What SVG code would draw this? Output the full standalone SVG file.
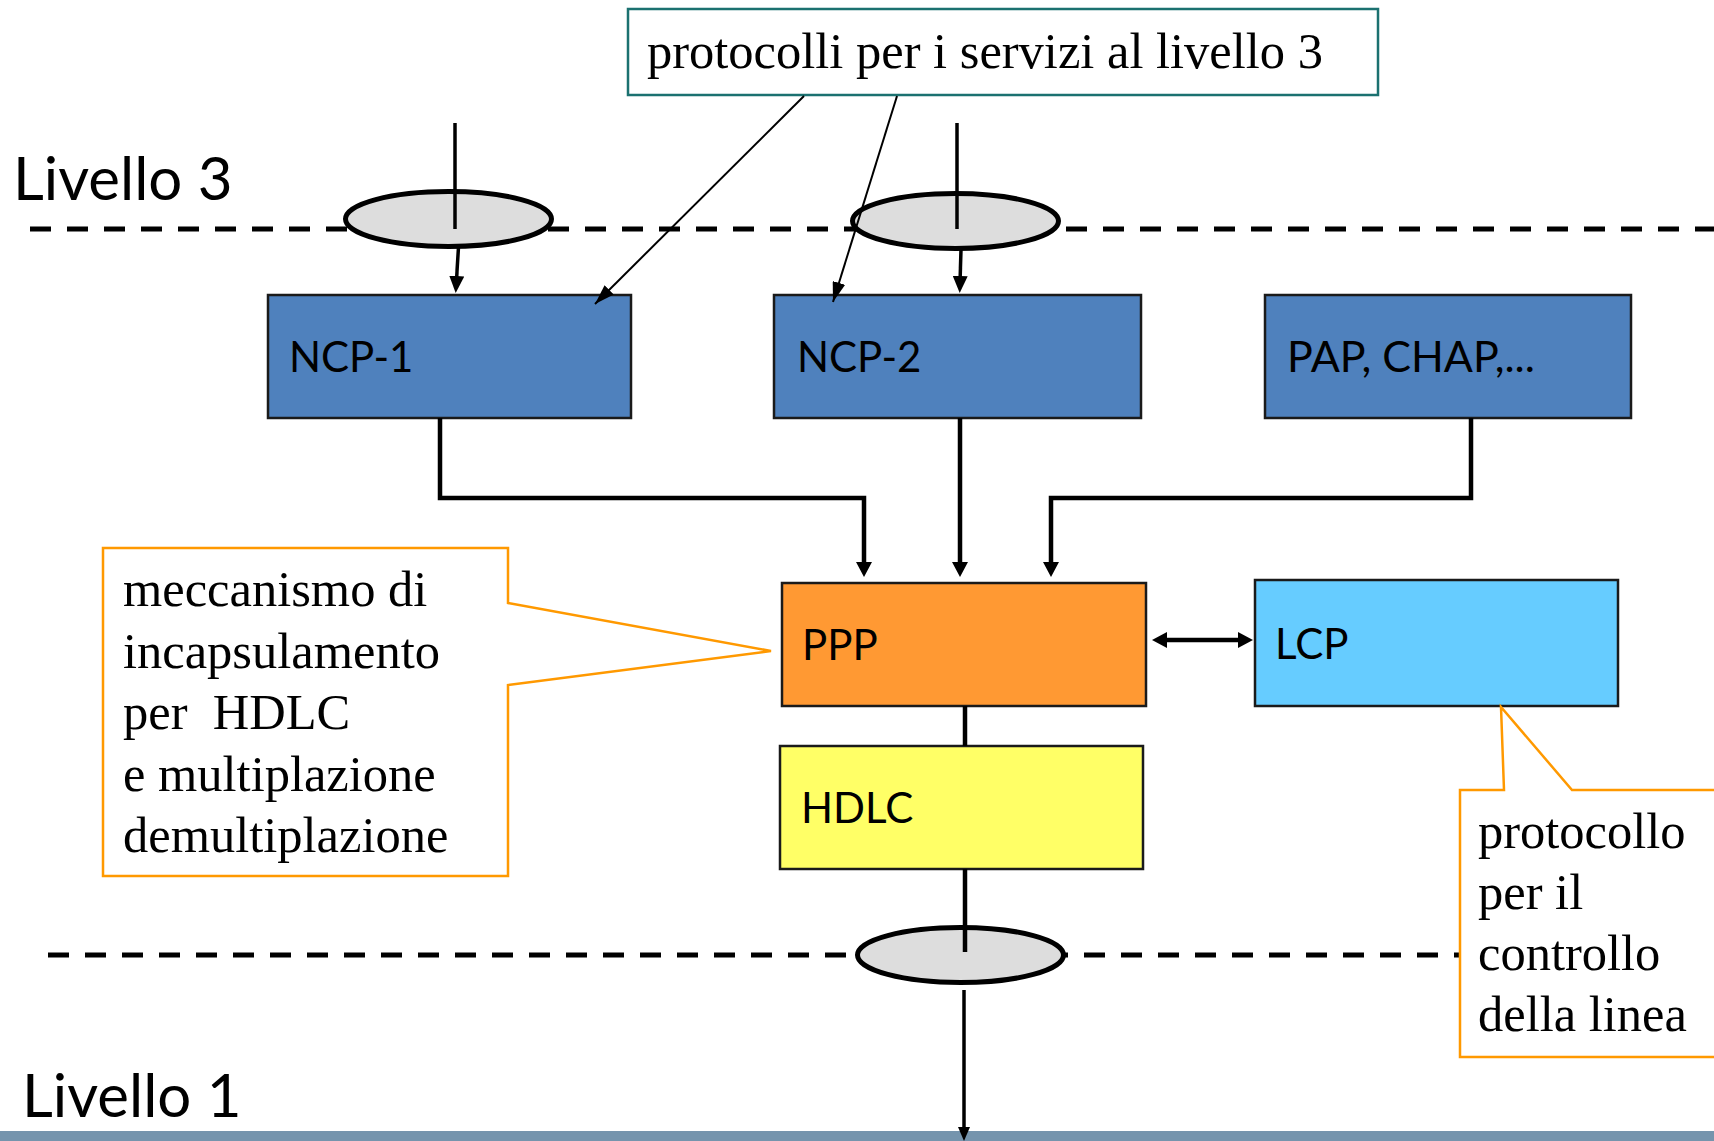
<svg xmlns="http://www.w3.org/2000/svg" width="1714" height="1141" viewBox="0 0 1714 1141">
<style>
.sans{font-family:Lato,"Liberation Sans",sans-serif;fill:#000}
.serif{font-family:"Liberation Serif","Times New Roman",serif;font-size:50.5px;fill:#000;white-space:pre}
.box{stroke:#1a1a1a;stroke-width:2.5}
.dash{stroke:#000;stroke-width:5;stroke-dasharray:21 16;fill:none}
.ell{fill:#dddddd;stroke:#000;stroke-width:5}
.thick{stroke:#000;stroke-width:4.5;fill:none}
.mid{stroke:#000;stroke-width:3.5;fill:none}
.thin{stroke:#000;stroke-width:2;fill:none}
.call{fill:#fff;stroke:#ff9900;stroke-width:2.5}
</style>
<defs>
<marker id="ah" markerUnits="userSpaceOnUse" viewBox="0 0 15 16" refX="5" refY="8" markerWidth="15" markerHeight="16" orient="auto-start-reverse"><path d="M0,0 L15,8 L0,16 z" fill="#000"/></marker>
<marker id="ah2" markerUnits="userSpaceOnUse" viewBox="0 0 17 15" refX="7" refY="7.5" markerWidth="17" markerHeight="15" orient="auto"><path d="M0,0 L17,7.5 L0,15 z" fill="#000"/></marker>
<marker id="ah3" markerUnits="userSpaceOnUse" viewBox="0 0 14 12" refX="4" refY="6" markerWidth="14" markerHeight="12" orient="auto"><path d="M0,0 L14,6 L0,12 z" fill="#000"/></marker>
<marker id="ahthin" markerUnits="userSpaceOnUse" viewBox="0 0 20 13" refX="20" refY="6.5" markerWidth="20" markerHeight="13" orient="auto"><path d="M0,0 L20,6.5 L0,13 z" fill="#000"/></marker>
</defs>

<rect id="bottom-bar" x="0" y="1131" width="1714" height="10" fill="#7594ad"/>

<g id="layer-lines">
<line class="dash" x1="30" y1="229" x2="1714" y2="229"/>
<line class="dash" x1="48" y1="955" x2="1714" y2="955"/>
</g>

<text id="livello3" class="sans" x="13" y="200" font-size="60">Livello 3</text>
<text id="livello1" class="sans" x="22" y="1117" font-size="60">Livello 1</text>

<g id="sap1"><ellipse class="ell" cx="448.5" cy="219" rx="103" ry="27.5"/></g>
<g id="sap2"><ellipse class="ell" cx="955.5" cy="221" rx="103" ry="27.5"/></g>
<g id="sap3"><ellipse class="ell" cx="960.5" cy="955" rx="103" ry="27.5"/></g>

<g id="ncp1"><rect class="box" x="268" y="295" width="363" height="123" fill="#4f81bd"/><text class="sans" x="289" y="372" font-size="42">NCP-1</text></g>
<g id="ncp2"><rect class="box" x="774" y="295" width="367" height="123" fill="#4f81bd"/><text class="sans" x="797" y="372" font-size="42">NCP-2</text></g>
<g id="pap"><rect class="box" x="1265" y="295" width="366" height="123" fill="#4f81bd"/><text class="sans" x="1287" y="372" font-size="43">PAP, CHAP,...</text></g>
<g id="ppp"><rect class="box" x="782" y="583" width="364" height="123" fill="#ff9933"/><text class="sans" x="802" y="660" font-size="42">PPP</text></g>
<g id="lcp"><rect class="box" x="1255" y="580" width="363" height="126" fill="#66ccff"/><text class="sans" x="1275" y="659" font-size="42">LCP</text></g>
<g id="hdlc"><rect class="box" x="780" y="746" width="363" height="123" fill="#ffff66"/><text class="sans" x="801" y="823" font-size="42">HDLC</text></g>

<g id="note-services">
<rect x="628" y="9" width="750" height="86" fill="#fff" stroke="#1b7170" stroke-width="2.5"/>
<text class="serif" x="647" y="68">protocolli per i servizi al livello 3</text>
</g>

<g id="note-encaps">
<path class="call" d="M103,548 H508 V603 L771,651 L508,685 V876 H103 Z"/>
<text class="serif" x="123" y="606">meccanismo di</text>
<text class="serif" x="123" y="668">incapsulamento</text>
<text class="serif" x="123" y="729">per  HDLC</text>
<text class="serif" x="123" y="791">e multiplazione</text>
<text class="serif" x="123" y="852">demultiplazione</text>
</g>

<g id="note-lcp">
<path class="call" d="M1460,790 H1504 L1501,707 L1572,790 H1720 V1057 H1460 Z"/>
<text class="serif" x="1478" y="848">protocollo</text>
<text class="serif" x="1478" y="909">per il</text>
<text class="serif" x="1478" y="970">controllo</text>
<text class="serif" x="1478" y="1031">della linea</text>
</g>

<g id="connectors">
<line class="mid" x1="455" y1="123" x2="455" y2="229"/>
<line class="mid" x1="957" y1="123" x2="957" y2="229"/>
<path class="mid" d="M458.5,247 L456.3,283" marker-end="url(#ah2)"/>
<path class="mid" d="M961,249 L960,283" marker-end="url(#ah2)"/>
<path class="thin" d="M804,96 L595,304" marker-end="url(#ahthin)"/>
<path class="thin" d="M897,96 L833,302" marker-end="url(#ahthin)"/>
<path class="thick" d="M440,418 V498 H864 V567" marker-end="url(#ah)"/>
<path class="thick" d="M960,418 V567" marker-end="url(#ah)"/>
<path class="thick" d="M1471,418 V498 H1051 V567" marker-end="url(#ah)"/>
<path class="thick" d="M1162,640 H1243" marker-start="url(#ah)" marker-end="url(#ah)"/>
<line class="thick" x1="965" y1="706" x2="965" y2="746"/>
<line class="thick" x1="965" y1="869" x2="965" y2="952"/>
<path class="mid" d="M964,990 V1131" marker-end="url(#ah3)"/>
</g>
</svg>
